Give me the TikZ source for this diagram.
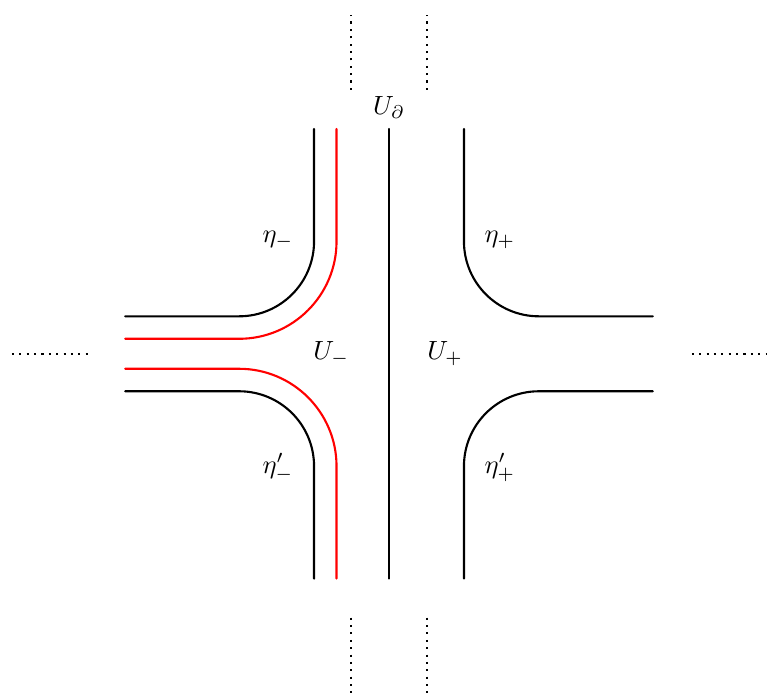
\documentclass[tikz,border=0pt]{standalone}
\usepackage{amsmath}
\usepackage{amssymb}
\usetikzlibrary{arrows.meta}

\begin{document}
\begin{tikzpicture}[
						line width=0.8pt,
						every node/.style={font=\normalsize},
						line cap=round,
						line join=round,
						redpath/.style={red},
						farther/.style={dotted, line cap=butt}
						]
						\useasboundingbox (-5.19,-4.59) rectangle (5.07,4.72);
						
						% middle line
						\draw (0,3) -- (0,-3);
						
						% left corners
						\draw (-1,3) -- (-1,1.5) arc[start angle=0, end angle=-90, radius=1] -- (-3.52,0.5);
						\draw (-1,-3) -- (-1,-1.5) arc[start angle=0, end angle=90, radius=1] -- (-3.52,-0.5);
						\draw[redpath] (-0.7,3) -- (-0.7,1.5) arc[start angle=0, end angle=-90, radius=1.3] -- (-3.52,0.2);
						\draw[redpath] (-0.7,-3) -- (-0.7,-1.5) arc[start angle=0, end angle=90, radius=1.3] -- (-3.52,-0.2);
						
						% right corners
						\draw (1,3) -- (1,1.5) arc[start angle=180, end angle=270, radius=1] -- (3.52,0.5);
						\draw (1,-3) -- (1,-1.5) arc[start angle=180, end angle=90, radius=1] -- (3.52,-0.5);
						
						% continuations
						\draw[farther] (-0.507,3.52) -- (-0.507,4.52);
						\draw[farther] (0.507,3.52) -- (0.507,4.52);
						\draw[farther] (-0.507,-3.52) -- (-0.507,-4.52);
						\draw[farther] (0.507,-3.52) -- (0.507,-4.52);
						\draw[farther] (-5.03,0) -- (-4.01,0);
						\draw[farther] (4.04,0) -- (5.04,0);
						
						% labels
						\node (Ubd) at (0,3.28) {$U_\partial$};
						\node (Um) at (-0.77,0) {$U_-$};
						\node (Up) at (0.75,0) {$U_+$};
						\node (etam) at (-1.48,1.52) {$\eta_-$};
						\node (etap) at (1.48,1.52) {$\eta_+$};
						\node (etamp) at (-1.48,-1.52) {$\eta'_-$};
						\node (etapp) at (1.48,-1.52) {$\eta'_+$};
						
					\end{tikzpicture}
\end{document}
